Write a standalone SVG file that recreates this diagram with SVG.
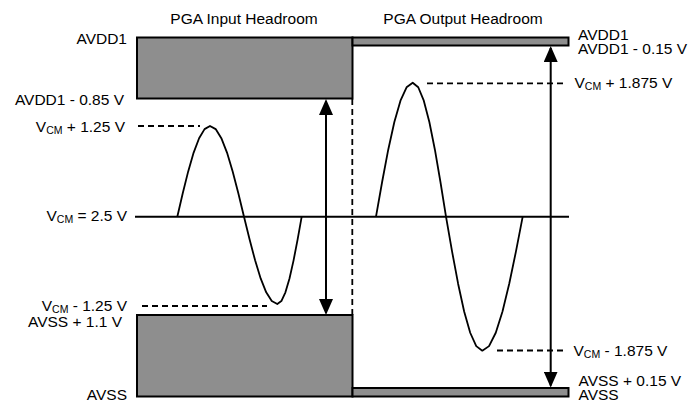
<svg xmlns="http://www.w3.org/2000/svg" width="688" height="402" viewBox="0 0 688 402">
<style>
text{font-family:"Liberation Sans",Arial,sans-serif;font-size:15.5px;fill:#000}
.l{text-anchor:end}
.s{font-size:10.5px}
.box{fill:#8e8e8e;stroke:#000;stroke-width:2}
.ln{stroke:#000;stroke-width:2;fill:none}
.dash{stroke:#000;stroke-width:1.8;fill:none;stroke-dasharray:6 4}
.wave{stroke:#000;stroke-width:1.8;fill:none;stroke-linejoin:round}
</style>
<defs>
<marker id="ah" viewBox="0 0 16 14" refX="14" refY="7" markerWidth="16" markerHeight="14" markerUnits="userSpaceOnUse" orient="auto-start-reverse">
<path d="M0,0 L16,7 L0,14 z" fill="#000"/>
</marker>
</defs>
<rect width="688" height="402" fill="#fff"/>
<g id="titles">
<text x="244" y="24" text-anchor="middle">PGA Input Headroom</text>
<text x="463" y="24" text-anchor="middle">PGA Output Headroom</text>
</g>
<g id="input-top-rail">
<rect class="box" x="137" y="37.5" width="215.5" height="61"/>
</g>
<g id="input-bottom-rail">
<rect class="box" x="137" y="315" width="215.5" height="81.5"/>
</g>
<g id="output-top-rail">
<rect class="box" x="352.5" y="37.5" width="216" height="8"/>
</g>
<g id="output-bottom-rail">
<rect class="box" x="352.5" y="388" width="216" height="8.5"/>
</g>
<g id="vcm-line">
<line class="ln" x1="135" y1="216.7" x2="569" y2="216.7"/>
</g>
<g id="input-wave">
<polyline class="wave" points="177.3,216.7 182.75,193.2 188.2,171.4 193.65,152.6 199.1,138.2 204.55,129.1 210,126 215.67,129.1 221.33,138.2 227,152.6 232.67,171.4 238.33,193.2 244,216.7 249.55,239.3 255.1,260.35 260.65,278.43 266.2,292.3 271.75,301.03 277.3,304 281.37,301.03 285.43,292.3 289.5,278.43 293.57,260.35 297.63,239.3 301.7,216.7"/>
</g>
<g id="output-wave">
<polyline class="wave" points="376,216.7 382.12,182.02 388.23,149.7 394.35,121.95 400.47,100.65 406.58,87.27 412.7,82.7 418.25,87.27 423.8,100.65 429.35,121.95 434.9,149.7 440.45,182.02 446,216.7 452.05,251.38 458.1,283.7 464.15,311.45 470.2,332.75 476.25,346.13 482.3,350.7 489.03,346.13 495.77,332.75 502.5,311.45 509.23,283.7 515.97,251.38 522.7,216.7"/>
</g>
<g id="connectors">
<line class="dash" x1="138" y1="126" x2="200" y2="126"/>
<line class="dash" x1="142" y1="306" x2="267" y2="306"/>
<line class="dash" x1="427" y1="83.3" x2="567" y2="83.3"/>
<line class="dash" x1="497" y1="350.5" x2="567" y2="350.5"/>
<line class="dash" x1="352.3" y1="99" x2="352.3" y2="315"/>
<line class="ln" x1="326" y1="101" x2="326" y2="313" marker-start="url(#ah)" marker-end="url(#ah)"/>
<line class="ln" x1="550.7" y1="48" x2="550.7" y2="385.5" marker-start="url(#ah)" marker-end="url(#ah)"/>
</g>
<g id="left-labels">
<text class="l" x="127" y="43.5">AVDD1</text>
<text class="l" x="124" y="104.5">AVDD1 - 0.85 V</text>
<text class="l" x="125" y="131.5">V<tspan class="s" dy="2">CM</tspan><tspan dy="-2"> + 1.25 V</tspan></text>
<text class="l" x="127" y="221">V<tspan class="s" dy="2">CM</tspan><tspan dy="-2"> = 2.5 V</tspan></text>
<text class="l" x="127" y="311">V<tspan class="s" dy="2">CM</tspan><tspan dy="-2"> - 1.25 V</tspan></text>
<text class="l" x="122" y="326.5">AVSS + 1.1 V</text>
<text class="l" x="127" y="400">AVSS</text>
</g>
<g id="right-labels">
<text x="578" y="40">AVDD1</text>
<text x="578" y="54">AVDD1 - 0.15 V</text>
<text x="574.5" y="87.5">V<tspan class="s" dy="2">CM</tspan><tspan dy="-2"> + 1.875 V</tspan></text>
<text x="573.5" y="356">V<tspan class="s" dy="2">CM</tspan><tspan dy="-2"> - 1.875 V</tspan></text>
<text x="578.5" y="385.5">AVSS + 0.15 V</text>
<text x="578.5" y="399.5">AVSS</text>
</g>
</svg>
